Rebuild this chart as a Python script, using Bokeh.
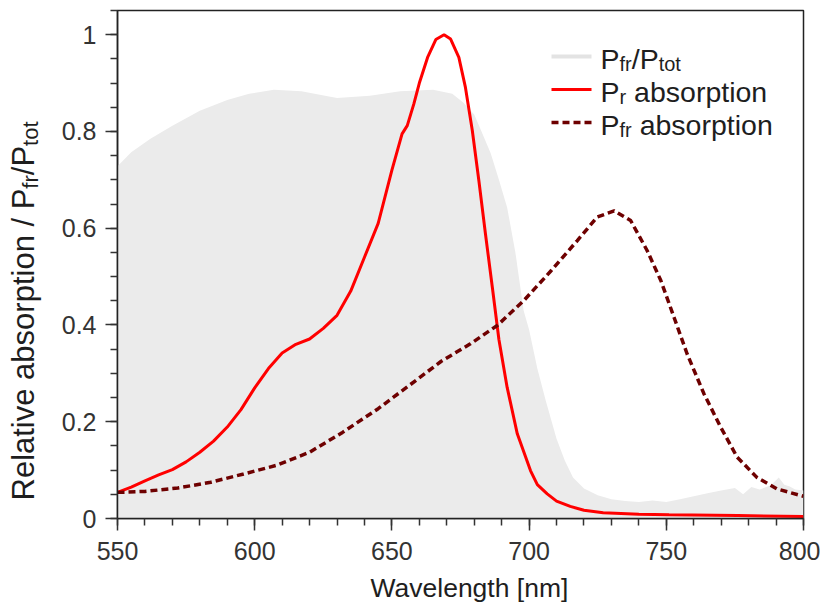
import math
from bokeh.plotting import figure
from bokeh.layouts import row
from bokeh.models import (Label, Arrow, SingleIntervalTicker, CustomJSTickFormatter,
                          Range1d, Title)
from bokeh.embed import file_html
from bokeh.resources import INLINE

# ---------------- data ----------------
wl_ratio = [550, 555, 562, 570, 580, 590, 598, 607, 617, 630, 642, 653, 665, 672, 676,
            680, 683, 686, 689, 692, 695, 698, 700, 703, 706, 710, 713, 716, 720, 725, 730,
            735, 740, 745, 750, 755, 760, 765, 770, 775, 778, 781, 784, 788, 791, 793, 795,
            797, 800]
pfr_ptot = [0.728, 0.757, 0.785, 0.812, 0.843, 0.865, 0.878, 0.886, 0.883, 0.869, 0.874,
            0.883, 0.886, 0.878, 0.86, 0.835, 0.795, 0.755, 0.70, 0.643, 0.55, 0.43, 0.39,
            0.31, 0.245, 0.165, 0.12, 0.085, 0.062, 0.048, 0.04, 0.036, 0.034, 0.037, 0.034,
            0.040, 0.046, 0.052, 0.058, 0.063, 0.05, 0.065, 0.06, 0.068, 0.085, 0.07, 0.066,
            0.06, 0.058]

wl_pr = [550, 555, 560, 565, 570, 575, 580, 585, 590, 595, 600, 605, 610, 615, 620, 625, 630,
         635, 640, 645, 650, 653.7, 655.6, 658, 660, 663, 666, 669, 671.4, 674.4, 676.8,
         679.3, 681.7, 684.1, 686.6, 689, 692, 695.7, 700.5, 703, 706.6, 710, 715, 720, 727,
         740, 751, 776, 800]
pr_abs = [0.054, 0.065, 0.078, 0.09, 0.101, 0.117, 0.137, 0.16, 0.189, 0.225, 0.27, 0.31,
          0.342, 0.36, 0.371, 0.393, 0.42, 0.47, 0.54, 0.61, 0.72, 0.795, 0.812, 0.857, 0.9,
          0.953, 0.99, 1.0, 0.991, 0.953, 0.891, 0.802, 0.698, 0.588, 0.478, 0.37, 0.271,
          0.175, 0.099, 0.07, 0.051, 0.036, 0.025, 0.017, 0.012, 0.009, 0.008, 0.006, 0.004]

wl_pfr = [550, 560, 572, 584, 596, 608, 620, 632, 645, 657, 668, 678.6, 688.4, 698, 708,
          717.5, 724.8, 731, 737, 743, 748, 752.8, 757.6, 763.7, 769.8, 775.8, 783, 790.4, 800]
pfr_abs = [0.054, 0.056, 0.063, 0.075, 0.092, 0.11, 0.137, 0.178, 0.227, 0.278, 0.325, 0.361,
           0.399, 0.45, 0.512, 0.574, 0.623, 0.636, 0.616, 0.554, 0.492, 0.416, 0.34, 0.258,
           0.189, 0.127, 0.085, 0.061, 0.046]

x_ticks_interval = 50
y_ticks_interval = 0.2

# ---------------- geometry ----------------
H = 612
YL_W = 57            # width of the left strip holding the y-axis title

# ---------------- main figure ----------------
p = figure(frame_width=686, frame_height=508, output_backend="svg", toolbar_location=None,
           x_range=Range1d(550, 800), y_range=Range1d(0, 1.05),
           min_border_left=60, min_border_right=17, min_border_top=10, min_border_bottom=94)
p.grid.visible = False
p.outline_line_color = "#222222"
p.outline_line_width = 1.5

p.varea(x=wl_ratio, y1=0, y2=pfr_ptot, fill_color="#ebebeb")
p.line(wl_pr, pr_abs, line_color="#ff0000", line_width=3)
p.line(wl_pfr, pfr_abs, line_color="#6e0000", line_width=3.5, line_dash="7 4")

FONT = "Liberation Sans"
for ax in (p.xaxis[0], p.yaxis[0]):
    ax.axis_line_color = "#222222"
    ax.axis_line_width = 1.5
    ax.major_tick_line_color = "#333333"
    ax.minor_tick_line_color = "#333333"
    ax.major_tick_line_width = 1.5
    ax.minor_tick_line_width = 1.5
    ax.major_tick_in = 0
    ax.minor_tick_in = 0
    ax.major_tick_out = 12
    ax.minor_tick_out = 7
    ax.major_label_text_font = FONT
    ax.major_label_text_font_size = "25px"
    ax.major_label_text_color = "#333333"
    ax.axis_label = None

p.xaxis[0].ticker = SingleIntervalTicker(interval=x_ticks_interval, num_minor_ticks=5)
p.yaxis[0].ticker = SingleIntervalTicker(interval=y_ticks_interval, num_minor_ticks=4)
p.yaxis[0].formatter = CustomJSTickFormatter(code="return (Math.round(tick*10)/10).toString();")
p.xaxis[0].major_label_standoff = 11
p.yaxis[0].major_label_standoff = 9

TXT = "#1e1e1e"
p.add_layout(Title(text="Wavelength [nm]", align="left", offset=253, standoff=16,
                   text_font=FONT, text_font_size="26.5px", text_font_style="normal",
                   text_color=TXT), "below")

# ---------------- text helpers (Arial/Liberation metrics) ----------------
W = {'R': 722, 'e': 556, 'l': 222, 'a': 556, 't': 278, 'i': 222, 'v': 500, ' ': 278,
     'b': 556, 's': 500, 'o': 556, 'r': 333, 'p': 556, 'n': 556, '/': 278, 'P': 667,
     'f': 278}


def tw(s, size):
    return sum(W[c] for c in s) / 1000.0 * size


def add_text(fig, x, y, text, size, angle=0.0):
    fig.add_layout(Label(x=x, y=y, x_units="screen", y_units="screen", text=text,
                         text_font=FONT, text_font_size=f"{size}px", text_color=TXT,
                         text_align="left", text_baseline="alphabetic", angle=angle))


def rich(fig, x, y, parts, size, sub_size, sub_drop, vertical=False):
    for txt, is_sub in parts:
        s = sub_size if is_sub else size
        lead = tw(" ", s) if txt.startswith(" ") else 0.0
        body = txt.strip()
        if vertical:
            add_text(fig, x + (sub_drop if is_sub else 0), y + lead, body, s, angle=math.pi / 2)
            y += tw(txt, s)
        else:
            add_text(fig, x + lead, y - (sub_drop if is_sub else 0), body, s)
            x += tw(txt, s)


# ---------------- y-axis title strip ----------------
fy = figure(width=YL_W, height=H, output_backend="svg", toolbar_location=None,
            x_range=Range1d(0, 1), y_range=Range1d(0, 1), min_border=0,
            x_axis_location=None, y_axis_location=None)
fy.grid.visible = False
fy.outline_line_color = None
rich(fy, 23, 18, [("Relative absorption / P", False), ("fr", True), ("/P", False),
                  ("tot", True)], 31, 22, 7, vertical=True)

# ---------------- legend ----------------
LG_X0, LG_X1, LG_TX = 434, 474, 483
rows = [
    (462, "#e3e3e3", 4, "solid", [("P", False), ("fr", True), ("/P", False), ("tot", True)]),
    (429, "#ff0000", 3, "solid", [("P", False), ("r", True), (" absorption", False)]),
    (396, "#6e0000", 3.5, "7 4", [("P", False), ("fr", True), (" absorption", False)]),
]
for ly, col, lw, dash, parts in rows:
    p.add_layout(Arrow(x_start=LG_X0, y_start=ly, x_end=LG_X1, y_end=ly,
                       start_units="screen", end_units="screen", end=None,
                       line_color=col, line_width=lw, line_dash=dash))
    rich(p, LG_TX, ly - 2, parts, 28.5, 20, 5)

layout = row(fy, p)
open("out.html", "w").write(file_html(layout, INLINE))
